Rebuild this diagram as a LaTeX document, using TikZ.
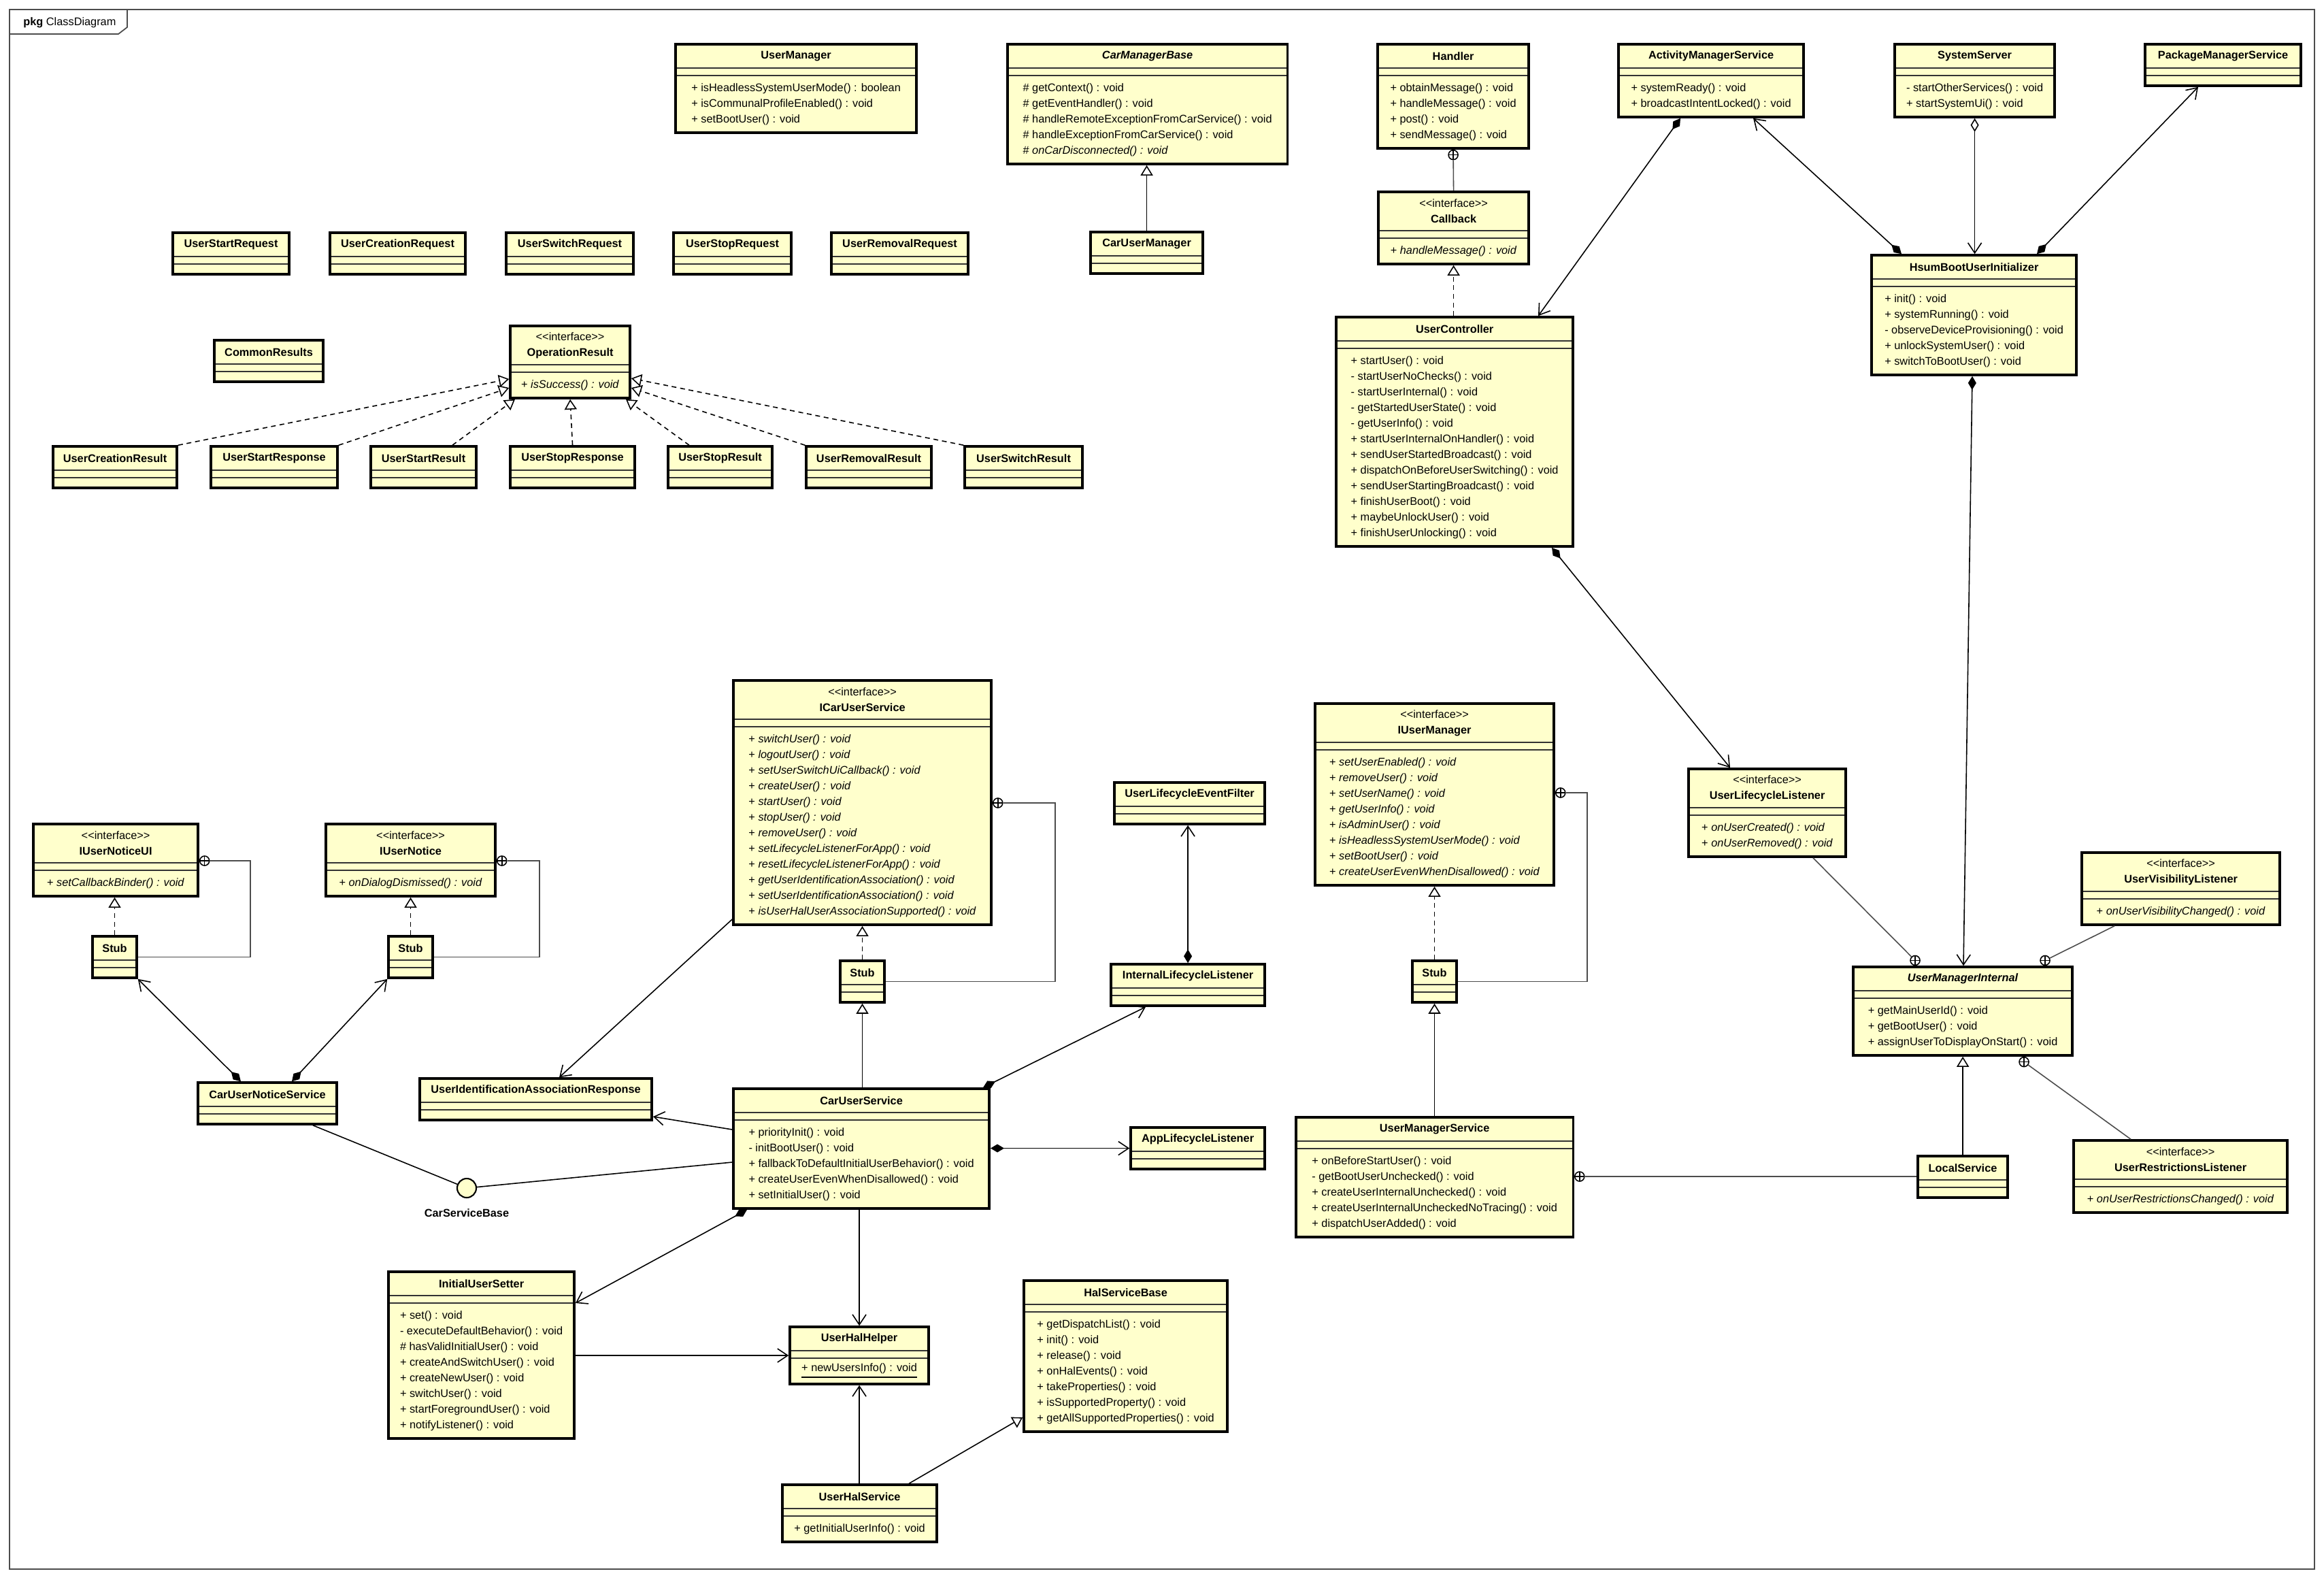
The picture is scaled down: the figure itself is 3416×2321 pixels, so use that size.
\documentclass[tikz,border=0pt]{standalone}
\usepackage{fontspec}
\setmainfont{Liberation Sans}
\usepackage{xcolor}
\usetikzlibrary{positioning,fit,calc,arrows.meta}
\definecolor{umlyellow}{HTML}{FFFFCC}
\newcommand{\umlfont}{\fontsize{4.64pt}{6.54pt}\selectfont}
\newcommand{\stereo}{\textnormal{\textless\kern0pt\textless interface\textgreater\kern0pt\textgreater}}
% [head height cm]{name}{top-left px}{width cm}{title}{members}{member lines}
\newcommand{\umlclass}[7][0.35]{%
  \pgfmathsetmacro{\bodyh}{0.23*#6+0.15}%
  \node[umlpart, font=\umlfont\bfseries, align=center, anchor=north west, minimum width=#4cm, minimum height=#1cm] (#2-h) at (#3) {#5};
  \node[umlpart, below=0pt of #2-h, minimum width=#4cm, minimum height=0.11cm] (#2-a) {};
  \node[umlpart, below=0pt of #2-a, minimum width=#4cm, minimum height=\bodyh cm] (#2-b) {#7};
  \draw[umlsep] (#2-h.south west) -- (#2-h.south east) (#2-a.south west) -- (#2-a.south east);
  \node[umlbox, fit=(#2-h)(#2-b)] (#2) {};
}

\begin{document}
\begin{tikzpicture}[x=0.01cm, y=-0.01cm,
  umlpart/.style={fill=umlyellow, inner sep=0pt, outer sep=0pt, font=\umlfont, align=left},
  umlbox/.style={draw, line width=1pt, inner sep=0pt},
  umlsep/.style={line width=0.5pt, draw=black!80},
  framel/.style={line width=0.5pt, draw=black!70},
  realize/.style={line width=0.45pt, dash pattern=on 2pt off 1.6pt, -{Triangle[length=0.15cm, width=0.18cm, fill=white]}},
  general/.style={line width=0.45pt, -{Triangle[length=0.15cm, width=0.18cm, fill=white]}},
  assoc/.style={line width=0.45pt, -{Straight Barb[length=0.15cm, width=0.2cm]}},
  compo/.style={line width=0.45pt, {Diamond[length=0.2cm, width=0.12cm]}-{Straight Barb[length=0.15cm, width=0.2cm]}},
  aggr/.style={line width=0.45pt, {Diamond[length=0.2cm, width=0.12cm, fill=white]}-{Straight Barb[length=0.15cm, width=0.2cm]}},
  plainline/.style={line width=0.45pt},
  nestline/.style={line width=0.45pt, draw=black!70},
  nest/.style={circle, draw, fill=white, line width=0.45pt, inner sep=0pt, minimum size=0.14cm,
    path picture={\draw[line width=0.45pt] (path picture bounding box.north) -- (path picture bounding box.south)
      (path picture bounding box.west) -- (path picture bounding box.east);}},
  lolli/.style={circle, draw, fill=umlyellow, line width=0.6pt, inner sep=0pt, minimum size=0.28cm}
]
\useasboundingbox (0,0) rectangle (3416,2321);
\draw[framel] (14,14) rectangle (3402,2306);
\draw[framel] (14,50) -- (174,50) -- (187,40) -- (187,14);
\node[font=\umlfont, anchor=west] (tab) at (22,33) {\textbf{pkg} ClassDiagram};

% top row
\umlclass{um}{993,65}{3.54}{UserManager}{3}{+ isHeadlessSystemUserMode() : boolean\\+ isCommunalProfileEnabled() : void\\+ setBootUser() : void}
\umlclass{cmb}{1481,65}{4.11}{\textit{CarManagerBase}}{5}{\# getContext() : void\\\# getEventHandler() : void\\\# handleRemoteExceptionFromCarService() : void\\\# handleExceptionFromCarService() : void\\\# \textit{onCarDisconnected() : void}}
\umlclass{handler}{2025,65}{2.22}{Handler}{4}{+ obtainMessage() : void\\+ handleMessage() : void\\+ post() : void\\+ sendMessage() : void}
\umlclass{ams}{2379,65}{2.72}{ActivityManagerService}{2}{+ systemReady() : void\\+ broadcastIntentLocked() : void}
\umlclass{sysserver}{2785,65}{2.35}{SystemServer}{2}{- startOtherServices() : void\\+ startSystemUi() : void}
\umlclass{pms}{3153,65}{2.29}{PackageManagerService}{0}{}
\umlclass[0.57]{callback}{2026,282}{2.21}{\stereo\\Callback}{1}{+ \textit{handleMessage() : void}}
\umlclass{cum}{1603,341}{1.65}{CarUserManager}{0}{}

\umlclass{usreq}{254,342}{1.71}{UserStartRequest}{0}{}
\umlclass{ucreq}{485,342}{1.99}{UserCreationRequest}{0}{}
\umlclass{uswreq}{744,342}{1.87}{UserSwitchRequest}{0}{}
\umlclass{ustreq}{990,342}{1.73}{UserStopRequest}{0}{}
\umlclass{urmreq}{1222,342}{2.01}{UserRemovalRequest}{0}{}

\umlclass{hbui}{2751,375}{3.01}{HsumBootUserInitializer}{5}{+ init() : void\\+ systemRunning() : void\\- observeDeviceProvisioning() : void\\+ unlockSystemUser() : void\\+ switchToBootUser() : void}
\umlclass{uctrl}{1964,466}{3.48}{UserController}{12}{+ startUser() : void\\- startUserNoChecks() : void\\- startUserInternal() : void\\- getStartedUserState() : void\\- getUserInfo() : void\\+ startUserInternalOnHandler() : void\\+ sendUserStartedBroadcast() : void\\+ dispatchOnBeforeUserSwitching() : void\\+ sendUserStartingBroadcast() : void\\+ finishUserBoot() : void\\+ maybeUnlockUser() : void\\+ finishUserUnlocking() : void}

\umlclass[0.57]{opres}{750,479}{1.76}{\stereo\\OperationResult}{1}{+ \textit{isSuccess() : void}}
\umlclass{cres}{315,500}{1.60}{CommonResults}{0}{}

\umlclass{ucres}{78,656}{1.82}{UserCreationResult}{0}{}
\umlclass{ustresp}{310,656}{1.86}{UserStartResponse}{0}{}
\umlclass{ustres}{545,656}{1.55}{UserStartResult}{0}{}
\umlclass{ustpresp}{750,656}{1.83}{UserStopResponse}{0}{}
\umlclass{ustpres}{982,656}{1.53}{UserStopResult}{0}{}
\umlclass{urmres}{1185,656}{1.84}{UserRemovalResult}{0}{}
\umlclass{uswres}{1418,656}{1.73}{UserSwitchResult}{0}{}

% middle
\umlclass[0.57]{icus}{1078,1000}{3.79}{\stereo\\ICarUserService}{12}{+ \textit{switchUser() : void}\\+ \textit{logoutUser() : void}\\+ \textit{setUserSwitchUiCallback() : void}\\+ \textit{createUser() : void}\\+ \textit{startUser() : void}\\+ \textit{stopUser() : void}\\+ \textit{removeUser() : void}\\+ \textit{setLifecycleListenerForApp() : void}\\+ \textit{resetLifecycleListenerForApp() : void}\\+ \textit{getUserIdentificationAssociation() : void}\\+ \textit{setUserIdentificationAssociation() : void}\\+ \textit{isUserHalUserAssociationSupported() : void}}
\umlclass[0.57]{ium}{1933,1034}{3.51}{\stereo\\IUserManager}{8}{+ \textit{setUserEnabled() : void}\\+ \textit{removeUser() : void}\\+ \textit{setUserName() : void}\\+ \textit{getUserInfo() : void}\\+ \textit{isAdminUser() : void}\\+ \textit{isHeadlessSystemUserMode() : void}\\+ \textit{setBootUser() : void}\\+ \textit{createUserEvenWhenDisallowed() : void}}
\umlclass[0.57]{ullis}{2482,1130}{2.31}{\stereo\\UserLifecycleListener}{2}{+ \textit{onUserCreated() : void}\\+ \textit{onUserRemoved() : void}}
\umlclass{ulefilter}{1638,1150}{2.21}{UserLifecycleEventFilter}{0}{}
\umlclass[0.57]{iunui}{49,1211}{2.42}{\stereo\\IUserNoticeUI}{1}{+ \textit{setCallbackBinder() : void}}
\umlclass[0.57]{iun}{479,1211}{2.49}{\stereo\\IUserNotice}{1}{+ \textit{onDialogDismissed() : void}}
\umlclass[0.57]{uvlis}{3060,1253}{2.91}{\stereo\\UserVisibilityListener}{1}{+ \textit{onUserVisibilityChanged() : void}}

\umlclass{iunuistub}{136,1376}{0.65}{Stub}{0}{}
\umlclass{iunstub}{571,1376}{0.65}{Stub}{0}{}
\umlclass{icusstub}{1235,1412}{0.65}{Stub}{0}{}
\umlclass{iumstub}{2076,1412}{0.65}{Stub}{0}{}
\umlclass{illis}{1633,1417}{2.26}{InternalLifecycleListener}{0}{}
\umlclass{umi}{2724,1421}{3.22}{\textit{UserManagerInternal}}{3}{+ getMainUserId() : void\\+ getBootUser() : void\\+ assignUserToDisplayOnStart() : void}

\umlclass{uiar}{617,1585}{3.41}{UserIdentificationAssociationResponse}{0}{}
\umlclass{cuns}{291,1591}{2.04}{CarUserNoticeService}{0}{}
\umlclass{cus}{1078,1600}{3.76}{CarUserService}{5}{+ priorityInit() : void\\- initBootUser() : void\\+ fallbackToDefaultInitialUserBehavior() : void\\+ createUserEvenWhenDisallowed() : void\\+ setInitialUser() : void}
\umlclass{ums}{1905,1642}{4.07}{UserManagerService}{5}{+ onBeforeStartUser() : void\\- getBootUserUnchecked() : void\\+ createUserInternalUnchecked() : void\\+ createUserInternalUncheckedNoTracing() : void\\+ dispatchUserAdded() : void}
\umlclass{alis}{1662,1657}{1.97}{AppLifecycleListener}{0}{}
\umlclass[0.57]{urlis}{3048,1676}{3.14}{\stereo\\UserRestrictionsListener}{1}{+ \textit{onUserRestrictionsChanged() : void}}
\umlclass{locsvc}{2819,1699}{1.32}{LocalService}{0}{}

% bottom
\umlclass{ius}{571,1869}{2.73}{InitialUserSetter}{8}{+ set() : void\\- executeDefaultBehavior() : void\\\# hasValidInitialUser() : void\\+ createAndSwitchUser() : void\\+ createNewUser() : void\\+ switchUser() : void\\+ startForegroundUser() : void\\+ notifyListener() : void}
\umlclass{uhh}{1161,1950}{2.04}{UserHalHelper}{1}{\underline{+ newUsersInfo() : void}}
\umlclass{hsb}{1505,1882}{2.99}{HalServiceBase}{7}{+ getDispatchList() : void\\+ init() : void\\+ release() : void\\+ onHalEvents() : void\\+ takeProperties() : void\\+ isSupportedProperty() : void\\+ getAllSupportedProperties() : void}
\umlclass{uhs}{1150,2182}{2.27}{UserHalService}{1}{+ getInitialUserInfo() : void}

\node[lolli] (csb) at (686,1746) {};
\node[font=\umlfont\bfseries, below=0.03cm of csb] (csb-l) {CarServiceBase};

% nesting marks
\node[nest, below] (handler-n) at (handler.south) {};
\node[nest, right] (iunui-n) at (iunui.east |- 0,1265) {};
\node[nest, right] (iun-n) at (iun.east |- 0,1265) {};
\node[nest, right] (icus-n) at (icus.east |- 0,1180) {};
\node[nest, right] (ium-n) at (ium.east |- 0,1165) {};
\node[nest, above] (umi-n1) at (2815,0 |- umi.north) {};
\node[nest, above] (umi-n2) at (3006,0 |- umi.north) {};
\node[nest, below] (umi-n3) at (2975,0 |- umi.south) {};
\node[nest, right] (ums-n) at (ums.east |- 0,1729) {};

% realizations
\draw[realize] (ucres.north east) -- (opres.west |- 0,557);
\draw[realize] (ustresp.north east) -- (opres.west |- 0,570);
\draw[realize] (665,0 |- ustres.north) -- (757,0 |- opres.south);
\draw[realize] (ustpresp.north) -- (opres.south);
\draw[realize] (1013,0 |- ustpres.north) -- (920,0 |- opres.south);
\draw[realize] (urmres.north west) -- (opres.east |- 0,570);
\draw[realize] (uswres.north west) -- (opres.east |- 0,556);
\draw[realize] (uctrl.north -| callback.south) -- (callback.south);
\draw[realize] (iunuistub.north) -- (iunuistub.north |- iunui.south);
\draw[realize] (iunstub.north) -- (iunstub.north |- iun.south);
\draw[realize] (icusstub.north) -- (icusstub.north |- icus.south);
\draw[realize] (iumstub.north) -- (iumstub.north |- ium.south);

% generalizations
\draw[general] (cum.north) -- (cum.north |- cmb.south);
\draw[general] (cus.north -| icusstub.south) -- (icusstub.south);
\draw[general] (ums.north -| iumstub.south) -- (iumstub.south);
\draw[general] (locsvc.north -| umi.south) -- (umi.south);
\draw[general] (1336,0 |- uhs.north) -- (hsb.west |- 0,2083);

% compositions and associations
\draw[compo] (2470,0 |- ams.south) -- (2261,0 |- uctrl.north);
\draw[compo] (2795,0 |- hbui.north) -- (2577,0 |- ams.south);
\draw[aggr] (sysserver.south) -- (sysserver.south |- hbui.north);
\draw[compo] (2994,0 |- hbui.north) -- (3231,0 |- pms.south);
\draw[compo] (2899,0 |- hbui.south) -- (2886,0 |- umi.north);
\draw[compo] (2281,0 |- uctrl.south) -- (2543,0 |- ullis.north);
\draw[compo] (354,0 |- cuns.north) -- (iunuistub.south east);
\draw[compo] (429,0 |- cuns.north) -- (iunstub.south west);
\draw[compo] (1445,0 |- cus.north) -- (1684,0 |- illis.south);
\draw[compo] (illis.north) -- (illis.north |- ulefilter.south);
\draw[compo] (cus.east |- alis.west) -- (alis.west);
\draw[compo] (1098,0 |- cus.south) -- (ius.east |- 0,1915);
\draw[assoc] (icus.west |- 0,1351) -- (822,0 |- uiar.north);
\draw[assoc] (cus.west |- 0,1660) -- (uiar.east |- 0,1641);
\draw[assoc] (cus.south -| uhh.north) -- (uhh.north);
\draw[assoc] (ius.east |- uhh.west) -- (uhh.west);
\draw[assoc] (uhs.north -| uhh.south) -- (uhh.south);
\draw[plainline] (cus.west |- 0,1708) -- (csb);
\draw[plainline] (460,0 |- cuns.south) -- (csb);

% nesting lines
\draw[nestline] (callback.north) -- (handler-n);
\draw[nestline] (iunui-n) -- (368,0 |- iunui-n) -- (368,0 |- iunuistub.east) -- (iunuistub.east);
\draw[nestline] (iun-n) -- (793,0 |- iun-n) -- (793,0 |- iunstub.east) -- (iunstub.east);
\draw[nestline] (icus-n) -- (1551,0 |- icus-n) -- (1551,0 |- icusstub.east) -- (icusstub.east);
\draw[nestline] (ium-n) -- (2333,0 |- ium-n) -- (2333,0 |- iumstub.east) -- (iumstub.east);
\draw[nestline] (2665,0 |- ullis.south) -- (umi-n1);
\draw[nestline] (3108,0 |- uvlis.south) -- (umi-n2);
\draw[nestline] (3132,0 |- urlis.north) -- (umi-n3);
\draw[nestline] (ums-n) -- (locsvc.west |- ums-n);
\end{tikzpicture}
\end{document}
